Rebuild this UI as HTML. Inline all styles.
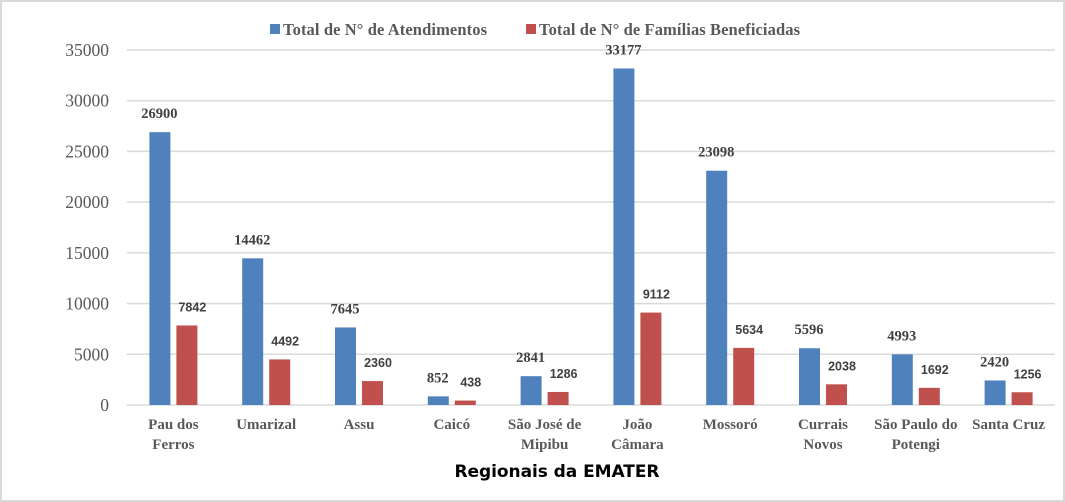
<!DOCTYPE html>
<html><head><meta charset="utf-8"><style>
html,body{margin:0;padding:0;background:#fff;}
svg{display:block;}
</style></head><body>
<svg width="1065" height="502" id="c">
<rect x="1" y="1" width="1063" height="500" fill="#fff" stroke="#d9d9d9" stroke-width="2"/>
<g id="legend">
<rect x="270" y="24" width="10" height="10" fill="#4f81bd"/>
<text x="283" y="35" font-family="Liberation Serif, serif" font-weight="bold" font-size="16.5" fill="#595959" textLength="204">Total de N° de Atendimentos</text>
<rect x="526" y="24" width="10" height="10" fill="#c0504d"/>
<text x="539" y="35" font-family="Liberation Serif, serif" font-weight="bold" font-size="16.5" fill="#595959" textLength="261">Total de N° de Famílias Beneficiadas</text>
</g>
<g id="grid"></g><g id="bars"></g><g id="labels"></g>
<text x="557" y="477" text-anchor="middle" font-family="DejaVu Sans, Liberation Sans, sans-serif" font-weight="bold" font-size="17" fill="#000" textLength="205">Regionais da EMATER</text>
</svg>
<script>
const categories=[["Pau dos","Ferros"],["Umarizal"],["Assu"],["Caicó"],["São José de","Mipibu"],["João","Câmara"],["Mossoró"],["Currais","Novos"],["São Paulo do","Potengi"],["Santa Cruz"]];
const atendimentos=[26900,14462,7645,852,2841,33177,23098,5596,4993,2420];
const familias=[7842,4492,2360,438,1286,9112,5634,2038,1692,1256];
const yTicks=[0,5000,10000,15000,20000,25000,30000,35000];
const NS="http://www.w3.org/2000/svg";
const x0=127,x1=1055,yBase=405,yTop=50,yMax=35000;
const y=v=>yBase-(v/yMax)*(yBase-yTop);
const bw=(x1-x0)/categories.length;
const xc=i=>x0+bw*(i+0.5);
function mk(t,a,p){const e=document.createElementNS(NS,t);for(const k in a)e.setAttribute(k,a[k]);p.appendChild(e);return e;}
const G=document.getElementById('grid'),B=document.getElementById('bars'),L=document.getElementById('labels');
yTicks.forEach(v=>{
 const l=mk('line',{x1:x0,x2:x1,y1:y(v),y2:y(v),stroke:'#d9d9d9','stroke-width':1.5},G);
 
 
 const t=mk('text',{x:109,y:y(v)+6,'text-anchor':'end','font-family':'Liberation Serif, serif','font-size':17.5,fill:'#595959'},G);
 t.textContent=v;
 
 
});
categories.forEach((c,i)=>{
 const cx=xc(i);
 const ya=y(atendimentos[i]),yf=y(familias[i]);
 const r1=mk('rect',{x:cx-24,y:ya,width:21,height:yBase-ya,fill:'#4f81bd'},B);
 
 
 const r2=mk('rect',{x:cx+3,y:yf,width:21,height:yBase-yf,fill:'#c0504d'},B);
 
 
 const t1=mk('text',{x:cx-14,y:ya-14,'text-anchor':'middle','font-family':'Liberation Serif, serif','font-weight':'bold','font-size':14.5,fill:'#404040'},L);
 t1.textContent=atendimentos[i];
 
 
 const t2=mk('text',{x:cx+19,y:yf-14,'text-anchor':'middle','font-family':'Liberation Sans, sans-serif','font-weight':'bold','font-size':12.5,fill:'#404040'},L);
 t2.textContent=familias[i];
 
 
 c.forEach((s,j)=>{
  const t=mk('text',{x:cx,y:429+j*20,'text-anchor':'middle','font-family':'Liberation Serif, serif','font-weight':'bold','font-size':15,fill:'#595959'},L);
  t.textContent=s;
  
  
 });
});
</script>
</body></html>
